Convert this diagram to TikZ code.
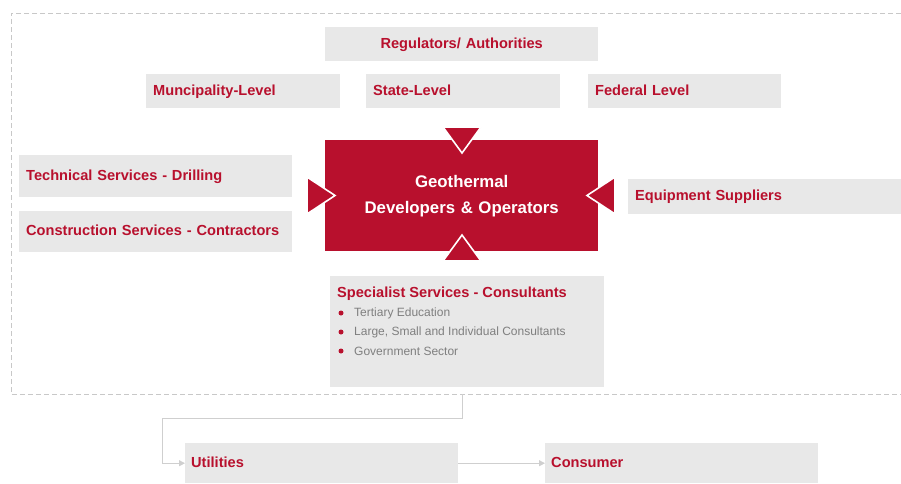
\documentclass[tikz,border=0pt]{standalone}
\usepackage{fontspec}
\setmainfont{Liberation Sans}
\usetikzlibrary{arrows.meta,positioning}
\definecolor{geored}{HTML}{B8102D}
\definecolor{boxgray}{HTML}{E8E8E8}
\definecolor{framegray}{HTML}{C8C8C8}
\definecolor{linkgray}{HTML}{CFCFCF}
\definecolor{textgray}{HTML}{7F7F7F}

\begin{document}
\begin{tikzpicture}[
  x=1pt, y=-1pt,
  box/.style={fill=boxgray, text=geored, anchor=north west, align=left, inner xsep=7pt, inner ysep=0pt, text height=10.5pt, text depth=2pt, font=\bfseries\fontsize{14.6}{17}\selectfont},
  core/.style={fill=geored, text=white, anchor=north west, align=center, inner sep=0pt, text width=273pt, minimum height=111pt, font=\bfseries\fontsize{16.8}{26}\selectfont},
  pointer/.style={fill=geored, draw=white, line width=1.6pt, line join=miter},
  frame/.style={draw=framegray, line width=0.8pt, dash pattern=on 5pt off 3pt},
  link/.style={draw=linkgray, line width=1pt, -{Triangle[length=6pt,width=6pt]}},
  dot/.style={circle, fill=geored, inner sep=0pt, minimum size=5pt},
  item/.style={text=textgray, anchor=west, inner sep=0pt, font=\fontsize{12}{14}\selectfont}
]
\useasboundingbox (0,0) rectangle (901,483);
% dashed frame round the stakeholders
\draw[frame] (901,13) -- (11,13) -- (11,394) -- (901,394);

\node[box, align=center, text width=259pt, minimum height=34pt] (reg) at (325,27) {Regulators/ Authorities};
\node[box, text width=180pt, minimum height=34pt] (muni) at (146,74) {Muncipality-Level};
\node[box, text width=180pt, minimum height=34pt] (state) at (366,74) {State-Level};
\node[box, text width=179pt, minimum height=34pt] (fed) at (588,74) {Federal Level};

\node[core] (dev) at (325,140) {Geothermal\\Developers \& Operators};

\node[box, text width=259pt, minimum height=42pt] (drill) at (19,155) {Technical Services - Drilling};
\node[box, text width=259pt, minimum height=41pt] (constr) at (19,211) {Construction Services - Contractors};
\node[box, text width=259pt, minimum height=35pt] (equip) at (628,179) {Equipment Suppliers};

% pointers onto the developer box
\filldraw[pointer] (443,127) -- (481,127) -- (462,153) -- cycle;
\filldraw[pointer] (443,261) -- (481,261) -- (462,235) -- cycle;
\filldraw[pointer] (307,177) -- (307,214) -- (335,195.5) -- cycle;
\filldraw[pointer] (615,177) -- (615,214) -- (587,195.5) -- cycle;

\node[box, minimum width=274pt, minimum height=111pt, inner sep=0pt, text height=, text depth=] (spec) at (330,276) {};
\node[box, fill=none, anchor=west, inner sep=0pt] (spectitle) at (337,293) {Specialist Services - Consultants};
\node[dot] (d1) at (341,313) {};
\node[item] (edu) at (354,313) {Tertiary Education};
\node[dot] (d2) at (341,332) {};
\node[item] (consult) at (354,332) {Large, Small and Individual Consultants};
\node[dot] (d3) at (341,351) {};
\node[item] (gov) at (354,351) {Government Sector};

\node[box, inner xsep=6pt, text width=261pt, minimum height=40pt] (util) at (185,443) {Utilities};
\node[box, inner xsep=6pt, text width=261pt, minimum height=40pt] (cons) at (545,443) {Consumer};

\coordinate (out) at (462,394);
\coordinate (bend) at (162,418);
\draw[link] (out) |- (bend) |- (util.west);
\draw[link] (util) -- (cons);
\end{tikzpicture}
\end{document}
